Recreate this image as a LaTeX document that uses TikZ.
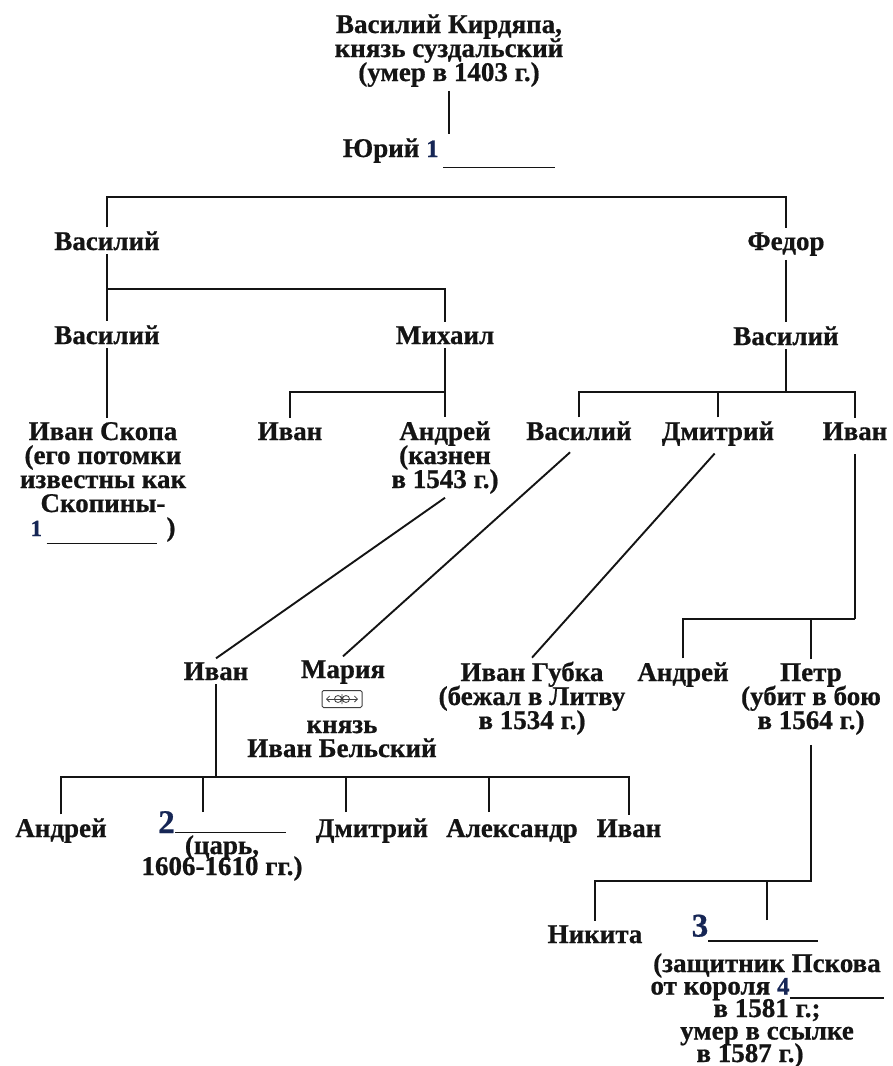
\documentclass[tikz,border=0pt]{standalone}
\usepackage{fontspec}
\setmainfont{Liberation Serif}[BoldFeatures={FakeBold=0.7}]
\usetikzlibrary{arrows.meta}
\definecolor{numc}{RGB}{22,38,85}
\definecolor{ink}{RGB}{20,20,20}
\newcommand\mainfnt{\fontsize{27}{24}\selectfont\bfseries\lineskiplimit=-30pt\lineskip=0pt}
\newcommand\numb[2][25]{{\color{numc}\fontsize{#1}{#1}\selectfont#2}}
\newcommand\blank[2][0pt]{\rule[#1]{#2}{1.4pt}}
\begin{document}
\begin{tikzpicture}[x=1pt,y=-1pt,
  nm/.style={inner sep=0pt, outer xsep=0pt, outer ysep=4pt, align=center, anchor=base, font=\mainfnt, text=ink},
  link/.style={line width=1.9pt, draw=ink}]
\fill[white] (0,0) rectangle (892,1066);
\useasboundingbox (0,0) rectangle (892,1066);
% nodes (base = baseline of the last line)
\node[nm] (kird) at (449,81) {Василий Кирдяпа,\\князь суздальский\\(умер в 1403 г.)};
\node[nm] (yuri) at (449,157) {Юрий \numb{1}\,\blank[-11pt]{112pt}};
\node[nm] (vas1) at (107,250) {Василий};
\node[nm] (fed) at (786,250) {Федор};
\node[nm] (vas2) at (107,344) {Василий};
\node[nm] (mikh) at (445,344) {Михаил};
\node[nm] (vasR) at (786,345) {Василий};
\node[nm] (skopa) at (103,536) {Иван Скопа\\(его потомки\\известны как\\Скопины-\\\numb[23]{1}\,\blank[-8pt]{110pt}\hspace{10pt})};
\node[nm] (ivanM) at (290,440) {Иван};
\node[nm] (andr) at (445,488) {Андрей\\(казнен\\в 1543 г.)};
\node[nm] (vasRR) at (579,440) {Василий};
\node[nm] (dmit) at (718,440) {Дмитрий};
\node[nm] (ivanR) at (855,440) {Иван};
\node[nm] (ivanA) at (216,680) {Иван};
\node[nm] (maria) at (343,678) {Мария};
\node[draw=black!75, line width=1pt, rounded corners=1.5pt, minimum width=40pt, minimum height=17pt, inner sep=0pt] (marr) at (342,699) {};
\node[nm] (spouse) at (342,757) {князь\\Иван Бельский};
\node[nm] (gubka) at (532,729) {Иван Губка\\(бежал в Литву\\в 1534 г.)};
\node[nm] (andrR) at (683,681) {Андрей};
\node[nm] (petr) at (811,729) {Петр\\(убит в бою\\в 1564 г.)};
\node[nm] (andB) at (61,837) {Андрей};
\node[nm, font={\mainfnt\baselineskip=21pt}] (tsar) at (222,875) {\numb[33]{2}\blank{111pt}\\(царь,\\1606-1610 гг.)};
\node[nm] (dmitB) at (372,837) {Дмитрий};
\node[nm] (alexB) at (512,837) {Александр};
\node[nm] (ivanB) at (629,837) {Иван};
\node[nm] (nikita) at (595,943) {Никита};
\node[nm, font={\mainfnt\baselineskip=22.5pt}] (n3) at (767,1062) {\numb[33]{3}\blank[-5pt]{110pt}\hspace*{24pt}\\[13pt](защитник Пскова\\от короля \numb{4}\blank[-4pt]{94pt}\\в 1581 г.;\hspace*{34pt}\\умер в ссылке\hspace*{22pt}\\в 1587 г.)\hspace*{34pt}};
% marriage symbol
\draw[line width=0.8pt, draw=black!75, {Straight Barb[length=3pt]}-{Straight Barb[length=3pt]}] ([xshift=-16pt]marr.center) -- ([xshift=16pt]marr.center);
\draw[line width=0.8pt, draw=black!75] ([xshift=-4pt]marr.center) circle (3.5pt) ([xshift=4pt]marr.center) circle (3.5pt)
  ([yshift=-5pt]marr.center) -- ([yshift=5pt]marr.center);
% junction coordinates
\coordinate (bar1) at (448,197);
\coordinate (bar2) at (300,289);
\coordinate (bar3) at (370,392);
\coordinate (bar4) at (785,392);
\coordinate (bar5) at (770,619);
\coordinate (bar6) at (400,777);
\coordinate (bar7) at (700,881);
\coordinate (t2) at (203,812);
\coordinate (t3) at (346,812);
\coordinate (t4) at (489,812);
\coordinate (t7) at (767,920);
% connectors
\draw[link] (kird.south) -- (yuri.north);
\draw[link] (vas1.north) |- (bar1) -| (fed.north);
\draw[link] (vas1.south) -- (vas2.north);
\draw[link] (vas1.south |- bar2) -| (mikh.north);
\draw[link] (fed.south) -- (vasR.north);
\draw[link] (vas2.south) -- (vas2.south |- skopa.north);
\draw[link] (mikh.south) -- (andr.north);
\draw[link] (mikh.south |- bar3) -| (ivanM.north);
\draw[link] (vasR.south) -- (vasR.south |- bar4);
\draw[link] (vasRR.north) |- (bar4) -| (ivanR.north);
\draw[link] (dmit.north) -- (dmit.north |- bar4);
\draw[link] (andr.south) -- (ivanA.north);
\draw[link, shorten <=12pt] (vasRR.south) -- (maria.north);
\draw[link, shorten <=5pt] (dmit.south) -- (gubka.north);
\draw[link, shorten <=10pt] (ivanR.south) -- (ivanR.south |- bar5);
\draw[link] (andrR.north) |- (ivanR.south |- bar5);
\draw[link] (petr.north) -- (petr.north |- bar5);
\draw[link] (ivanA.south) -- (ivanA.south |- bar6);
\draw[link] (andB.north) |- (ivanB.north |- bar6) -- (ivanB.north);
\draw[link] (t2) -- (t2 |- bar6);
\draw[link] (t3) -- (t3 |- bar6);
\draw[link] (t4) -- (t4 |- bar6);
\draw[link, shorten <=6pt] (petr.south) -- (petr.south |- bar7) -| (nikita.north);
\draw[link] (t7) -- (t7 |- bar7);
\end{tikzpicture}
\end{document}
